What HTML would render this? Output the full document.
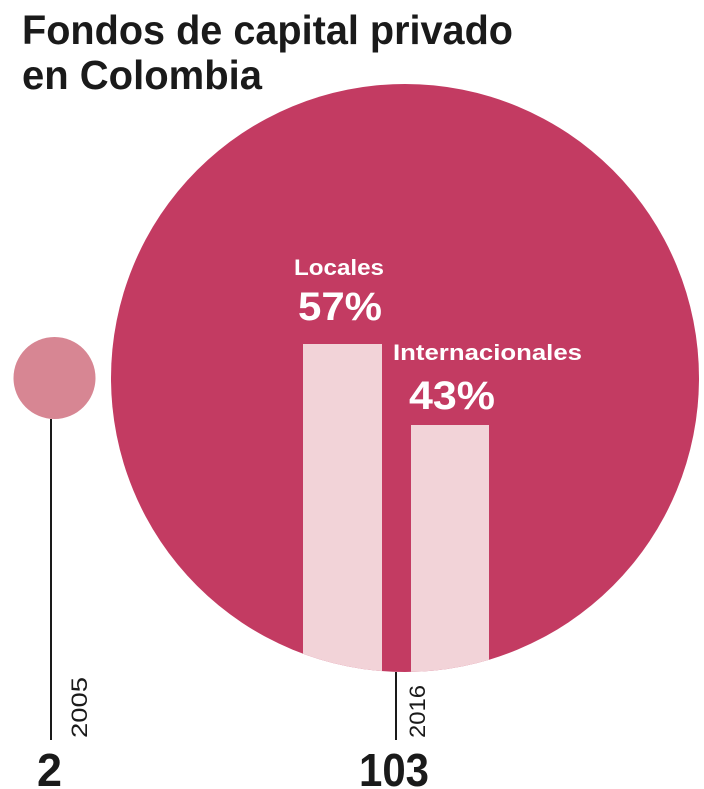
<!DOCTYPE html>
<html><head><meta charset="utf-8"><style>
html,body{margin:0;padding:0;background:#fff;}
svg{display:block}
text{font-family:"Liberation Sans",sans-serif;}
</style></head><body>
<svg width="704" height="789" viewBox="0 0 704 789" xmlns="http://www.w3.org/2000/svg">
<defs><clipPath id="c"><circle cx="405" cy="378" r="294"/></clipPath></defs>
<text x="22" y="44" font-size="41" font-weight="bold" fill="#1a1a1a" textLength="491" lengthAdjust="spacingAndGlyphs">Fondos de capital privado</text>
<text x="22" y="89" font-size="41" font-weight="bold" fill="#1a1a1a" textLength="240" lengthAdjust="spacingAndGlyphs">en Colombia</text>
<circle cx="405" cy="378" r="294" fill="#c33b62"/>
<g clip-path="url(#c)">
<rect x="303" y="344" width="79" height="340" fill="#f2d3d8"/>
<rect x="411" y="425" width="78" height="260" fill="#f2d3d8"/>
</g>
<circle cx="54.5" cy="378" r="41" fill="#d78693"/>
<line x1="51" y1="419" x2="51" y2="740" stroke="#1a1a1a" stroke-width="2"/>
<line x1="396" y1="672" x2="396" y2="740" stroke="#1a1a1a" stroke-width="2"/>
<text x="294" y="275" font-size="22" font-weight="bold" fill="#fff" textLength="90" lengthAdjust="spacingAndGlyphs">Locales</text>
<text x="298" y="320" font-size="40" font-weight="bold" fill="#fff" textLength="84" lengthAdjust="spacingAndGlyphs">57%</text>
<text x="393" y="360" font-size="22" font-weight="bold" fill="#fff" textLength="189" lengthAdjust="spacingAndGlyphs">Internacionales</text>
<text x="409" y="409" font-size="40" font-weight="bold" fill="#fff" textLength="86" lengthAdjust="spacingAndGlyphs">43%</text>
<text transform="translate(87,738) rotate(-90)" font-size="22" fill="#1a1a1a" textLength="61" lengthAdjust="spacingAndGlyphs">2005</text>
<text transform="translate(425,738) rotate(-90)" font-size="22" fill="#1a1a1a" textLength="53" lengthAdjust="spacingAndGlyphs">2016</text>
<text x="37" y="786" font-size="46" font-weight="bold" fill="#1a1a1a" textLength="25" lengthAdjust="spacingAndGlyphs">2</text>
<text x="359" y="786" font-size="46" font-weight="bold" fill="#1a1a1a" textLength="70" lengthAdjust="spacingAndGlyphs">103</text>
</svg>
</body></html>
